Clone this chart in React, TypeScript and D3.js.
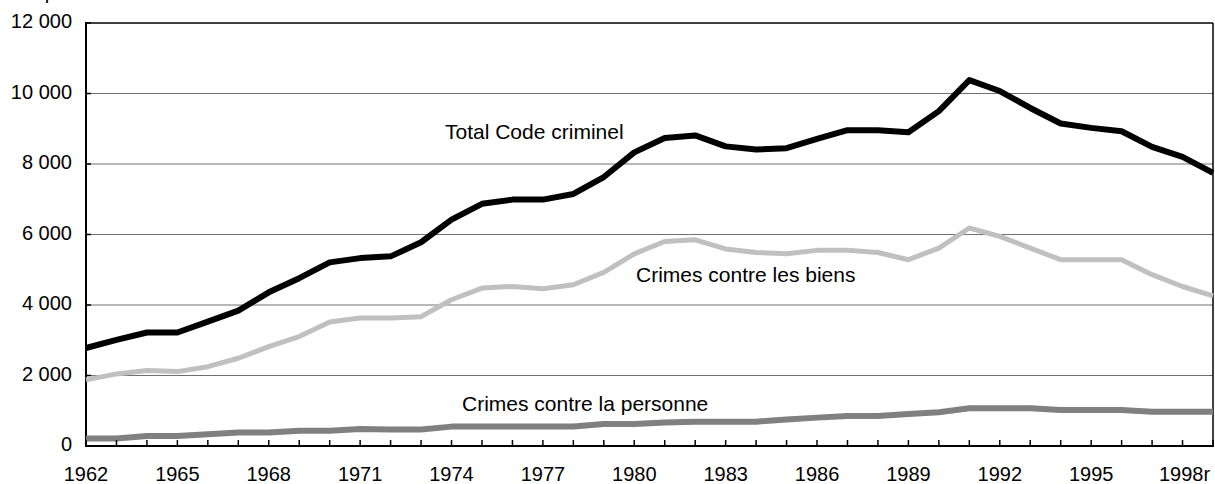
import React from 'react'
import * as d3 from 'd3'

const years = [
  1962, 1963, 1964, 1965, 1966, 1967, 1968, 1969, 1970, 1971, 1972, 1973, 1974,
  1975, 1976, 1977, 1978, 1979, 1980, 1981, 1982, 1983, 1984, 1985, 1986, 1987,
  1988, 1989, 1990, 1991, 1992, 1993, 1994, 1995, 1996, 1997, 1998, 1999,
]

const totalCode = [
  2780, 3010, 3220, 3220, 3530, 3840, 4360, 4760, 5210, 5330, 5380, 5780, 6420,
  6870, 6990, 6990, 7150, 7630, 8330, 8740, 8810, 8500, 8410, 8450, 8710, 8960,
  8960, 8900, 9500, 10380, 10070, 9590, 9150, 9025, 8930, 8485, 8200, 7750,
]

const biens = [
  1875, 2045, 2140, 2110, 2250, 2490, 2820, 3105, 3520, 3630, 3630, 3670, 4150,
  4480, 4525, 4460, 4575, 4925, 5450, 5800, 5850, 5590, 5490, 5455, 5550, 5550,
  5490, 5285, 5615, 6185, 5945, 5615, 5285, 5285, 5285, 4860, 4525, 4260,
]

const personne = [
  210, 210, 285, 285, 330, 380, 380, 435, 435, 480, 470, 470, 550, 550, 550, 550,
  550, 625, 625, 665, 690, 690, 690, 755, 805, 850, 850, 910, 960, 1070, 1070,
  1070, 1020, 1020, 1020, 975, 975, 975,
]

const yTicks = [0, 2000, 4000, 6000, 8000, 10000, 12000]
const xLabelYears = [1962, 1965, 1968, 1971, 1974, 1977, 1980, 1983, 1986, 1989, 1992, 1995, 1998]

const W = 1215
const H = 484
const left = 86
const right = 1213
const top = 23
const bottom = 446
const font = '"Liberation Sans", Arial, sans-serif'

const fmt = (v: number) => (v >= 1000 ? `${Math.floor(v / 1000)} ${String(v % 1000).padStart(3, '0')}` : String(v))

const App: React.FC = () => {
  const x = d3.scaleLinear().domain([1962, 1999]).range([left, right])
  const y = d3.scaleLinear().domain([0, 12000]).range([bottom, top])

  const line = d3
    .line<number>()
    .x((_, i) => x(years[i]))
    .y((d) => y(d))

  const series = [
    { values: personne, color: '#808080', width: 6 },
    { values: biens, color: '#c0c0c0', width: 5 },
    { values: totalCode, color: '#000000', width: 6 },
  ]

  return (
    <svg
      width={W}
      height={H}
      style={{ position: 'absolute', left: 0, top: 0, background: '#fff', fontFamily: font }}
    >
      <text x={-3} y={-1} fontSize={20} fill="#000">
        Taux pour 100 000 habitants
      </text>

      {/* gridlines */}
      {yTicks.slice(1, -1).map((t) => (
        <line key={t} x1={left} x2={right} y1={y(t)} y2={y(t)} stroke="#707070" strokeWidth={1} />
      ))}

      {/* frame */}
      <line x1={left} x2={right} y1={top} y2={top} stroke="#000" strokeWidth={1.5} />
      <line x1={right} x2={right} y1={top} y2={bottom} stroke="#000" strokeWidth={1.5} />

      {/* y axis */}
      <line x1={left} x2={left} y1={top - 1} y2={bottom} stroke="#000" strokeWidth={2} />
      {yTicks.map((t) => (
        <g key={t}>
          <line x1={left} x2={left + 5} y1={y(t)} y2={y(t)} stroke="#000" strokeWidth={1.5} />
          <text x={72} y={y(t) - 2} dy="0.35em" textAnchor="end" fontSize={20} fill="#000">
            {fmt(t)}
          </text>
        </g>
      ))}

      {/* lines */}
      {series.map((s, i) => (
        <path
          key={i}
          d={line(s.values) ?? ''}
          fill="none"
          stroke={s.color}
          strokeWidth={s.width}
          strokeLinejoin="round"
        />
      ))}

      {/* x axis */}
      <line x1={left - 1} x2={right + 1} y1={bottom} y2={bottom} stroke="#000" strokeWidth={2} />
      {years.map((yr) => (
        <line key={yr} x1={x(yr)} x2={x(yr)} y1={bottom} y2={bottom - 6} stroke="#000" strokeWidth={1.5} />
      ))}
      {xLabelYears.map((yr) => (
        <text key={yr} x={x(yr) + (yr === 1998 ? 2 : 0)} y={481} textAnchor="middle" fontSize={20} fill="#000">
          {yr === 1998 ? '1998r' : yr}
        </text>
      ))}

      {/* series labels */}
      <text x={445} y={139} fontSize={21} fill="#000">
        Total Code criminel
      </text>
      <text x={636} y={282} fontSize={21} fill="#000">
        Crimes contre les biens
      </text>
      <text x={462} y={411} fontSize={21} fill="#000">
        Crimes contre la personne
      </text>
    </svg>
  )
}

export default App
